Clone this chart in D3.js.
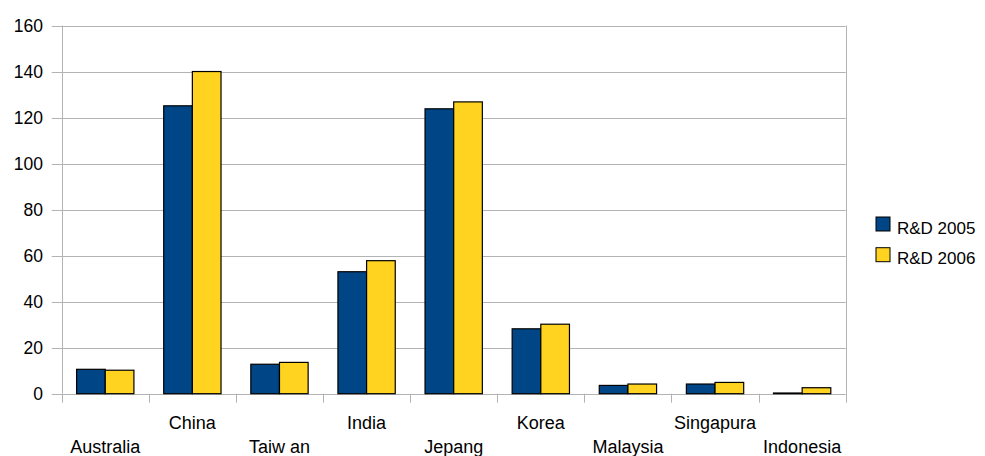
<!DOCTYPE html>
<html>
<head>
<meta charset="utf-8">
<script src="https://cdn.jsdelivr.net/npm/d3@7"></script>
<style>
  html, body { margin: 0; padding: 0; background: #fff; }
  svg { display: block; font-family: "Liberation Sans", Arial, sans-serif; }
</style>
</head>
<body>
<svg id="chart" width="985" height="456"></svg>
<script>
const categories = ["Australia", "China", "Taiw an", "India", "Jepang", "Korea", "Malaysia", "Singapura", "Indonesia"];
const seriesNames = ["R&D 2005", "R&D 2006"];
const rd2005 = [10.6, 125.1, 12.8, 53.0, 123.8, 28.2, 3.6, 4.2, 0.3];
const rd2006 = [10.2, 140.0, 13.6, 57.8, 126.8, 30.2, 4.2, 4.9, 2.6];
const yTicks = [0, 20, 40, 60, 80, 100, 120, 140, 160];
const colors = ["#004586", "#ffd320"];

(function () {
const svg = d3.select("#chart");
const pl = 61.7, pr = 845.7, pt = 25.5, pb = 393.7;

const x = d3.scaleBand().domain(categories).range([pl, pr]).paddingInner(0).paddingOuter(0);
const xs = d3.scaleBand().domain(seriesNames).range([0, x.bandwidth()]).paddingInner(0).paddingOuter(0.52);
const y = d3.scaleLinear().domain([0, 160]).range([pb, pt]);

// gridlines
svg.append("g").selectAll("line").data(yTicks).join("line")
  .attr("x1", pl - 10).attr("x2", pr)
  .attr("y1", d => Math.round(y(d)) + 0.5).attr("y2", d => Math.round(y(d)) + 0.5)
  .attr("stroke", "#b3b3b3").attr("stroke-width", 1);

// vertical axis lines & x ticks
const bounds = categories.map(c => x(c)).concat([pr]);
svg.append("line").attr("x1", Math.round(pl) + 0.5).attr("x2", Math.round(pl) + 0.5)
  .attr("y1", pt).attr("y2", pb).attr("stroke", "#b3b3b3");
svg.append("line").attr("x1", Math.round(pr) + 0.5).attr("x2", Math.round(pr) + 0.5)
  .attr("y1", pt).attr("y2", pb).attr("stroke", "#b3b3b3");
svg.append("g").selectAll("line").data(bounds).join("line")
  .attr("x1", d => Math.round(d) + 0.5).attr("x2", d => Math.round(d) + 0.5)
  .attr("y1", pb).attr("y2", pb + 9)
  .attr("stroke", "#b3b3b3");

// y tick labels
svg.append("g").selectAll("text").data(yTicks).join("text")
  .attr("x", 43).attr("y", d => y(d) + 6.3)
  .attr("text-anchor", "end").attr("font-size", 17.5).attr("fill", "#000")
  .text(d => d);

// bars
const data = categories.map((c, i) => ({ cat: c, vals: [rd2005[i], rd2006[i]] }));
const groups = svg.append("g").selectAll("g").data(data).join("g")
  .attr("transform", d => `translate(${x(d.cat)},0)`);
groups.selectAll("rect").data(d => d.vals.map((v, j) => ({ s: seriesNames[j], v, j })))
  .join("rect")
  .attr("x", d => xs(d.s)).attr("width", xs.bandwidth())
  .attr("y", d => y(d.v)).attr("height", d => pb - y(d.v))
  .attr("fill", d => colors[d.j])
  .attr("stroke", "#000").attr("stroke-width", 1.2);

// x labels (staggered)
svg.append("g").selectAll("text").data(categories).join("text")
  .attr("x", d => x(d) + x.bandwidth() / 2)
  .attr("y", (d, i) => i % 2 === 0 ? 452.5 : 429)
  .attr("text-anchor", "middle").attr("font-size", 18).attr("fill", "#000")
  .text(d => d);

// legend
const lg = svg.append("g").selectAll("g").data(seriesNames).join("g")
  .attr("transform", (d, i) => `translate(876,${217 + i * 30.7})`);
lg.append("rect").attr("x", 0).attr("y", 0).attr("width", 14).attr("height", 14)
  .attr("fill", (d, i) => colors[i]).attr("stroke", "#000").attr("stroke-width", 1);
lg.append("text").attr("x", 21).attr("y", 16.7).attr("font-size", 17).attr("fill", "#000")
  .text(d => d);
})();
</script>
</body>
</html>
